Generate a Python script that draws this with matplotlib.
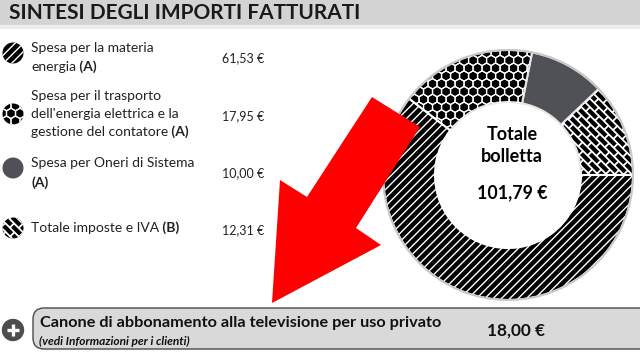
"""Sintesi degli importi fatturati: bolletta donut with textured wedges and side legend."""
import matplotlib
matplotlib.use("Agg")
import matplotlib.pyplot as plt
import numpy as np
from matplotlib.collections import LineCollection, PolyCollection
from matplotlib.patches import Circle, FancyBboxPatch, Polygon, Rectangle

# ---- data ----
ITEMS = ["materia", "trasporto", "oneri", "imposte"]
LABEL_LINES = [
    ["Spesa per la materia", "energia"],
    ["Spesa per il trasporto", "dell'energia elettrica e la", "gestione del contatore"],
    ["Spesa per Oneri di Sistema", ""],
    ["Totale imposte e IVA"],
]
TAGS = ["(A)", "(A)", "(A)", "(B)"]
VALUES = [61.53, 17.95, 10.00, 12.31]
TOTAL = 101.79
CANONE = 18.00
TITLE = "SINTESI DEGLI IMPORTI FATTURATI"

# ---- styles ----
FACE = {"materia": "black", "trasporto": "black", "oneri": "#505057", "imposte": "black"}
TEXTURE = {"materia": "stripes", "trasporto": "honeycomb", "oneri": None, "imposte": "bricks"}
FONT = "Lato"


def euro(v):
    return f"{v:,.2f} €".replace(",", "X").replace(".", ",").replace("X", ".")


def honeycomb(x0, x1, y0, y1, r=5.2):
    """Hexagon outlines covering a box (pixel units)."""
    ang = np.deg2rad(np.arange(6) * 60 + 30)
    hexv = np.c_[np.cos(ang), np.sin(ang)] * r
    dx, dy = np.sqrt(3) * r, 1.5 * r
    polys = []
    for row, cy in enumerate(np.arange(y0 - r, y1 + 2 * r, dy)):
        off = dx / 2 if row % 2 else 0
        for cx in np.arange(x0 - dx + off, x1 + dx, dx):
            polys.append(hexv + (cx, cy))
    return PolyCollection(polys, facecolors="none", edgecolors="white", linewidths=0.9, zorder=3)


def bricks(cx, cy, half, h=6.0, L=13.0):
    """Diagonal brick wall lines centred on (cx, cy)."""
    u = np.array([1, 1]) / np.sqrt(2)
    v = np.array([-1, 1]) / np.sqrt(2)
    segs = []
    rows = np.arange(-half, half + h, h)
    for k, vv in enumerate(rows):
        segs.append([(cx, cy) + u * -half + v * vv, (cx, cy) + u * half + v * vv])
        off = L / 2 if k % 2 else 0
        for uu in np.arange(-half + off, half, L):
            segs.append([(cx, cy) + u * uu + v * vv, (cx, cy) + u * uu + v * (vv + h)])
    return LineCollection(segs, colors="white", linewidths=1.3, zorder=3)


def texture(ax, patch, kind, box):
    x0, x1, y0, y1 = box
    if kind == "stripes":
        patch.set_hatch("////")
        patch.set_edgecolor("white")
        return
    if kind == "honeycomb":
        coll = honeycomb(x0, x1, y0, y1)
    elif kind == "bricks":
        coll = bricks((x0 + x1) / 2, (y0 + y1) / 2, max(x1 - x0, y1 - y0))
    else:
        return
    ax.add_collection(coll)
    coll.set_clip_path(patch)


plt.rcParams["hatch.linewidth"] = 1.0
fig = plt.figure(figsize=(6.4, 3.52), dpi=100)
ax = fig.add_axes([0, 0, 1, 1])

# header band
ax.add_patch(Rectangle((0, 0), 640, 25, color="#d3d3d3", zorder=1))
ax.add_patch(Rectangle((0, 25), 640, 3, color="#eeeeee", zorder=1))
ax.text(9, 13, TITLE, fontsize=15, fontweight="bold", family=FONT,
        va="center", ha="left", color="#1a1a1a")

# donut: plotting order imposte, oneri, trasporto, materia starting at 3 o'clock
CX, CY, R = 508, 175, 125
order = [3, 2, 1, 0]
wedges, _ = ax.pie([VALUES[i] for i in order], center=(CX, CY), radius=R,
                   startangle=0, counterclock=False,
                   wedgeprops=dict(width=52, edgecolor="#e6e6e6", linewidth=1.5))
for w, i in zip(wedges, order):
    w.set_facecolor(FACE[ITEMS[i]])
    texture(ax, w, TEXTURE[ITEMS[i]], (CX - R, CX + R, CY - R, CY + R))
ax.add_patch(Circle((CX, CY), R, fill=False, ec="#c8c8c8", lw=1.5, zorder=4))
ax.text(512, 135, "Totale", fontsize=13, fontweight="bold", family=FONT, ha="center", va="center")
ax.text(512, 157, "bolletta", fontsize=13, fontweight="bold", family=FONT, ha="center", va="center")
ax.text(512, 193, euro(TOTAL), fontsize=12.8, fontweight="bold", family=FONT, ha="center", va="center")

# legend rows
icon_y = [53, 114, 168, 228]
line_y = [[48, 67], [96, 114, 132], [163, 183], [228]]
value_y = [58, 116, 173, 230]
for k, item in enumerate(ITEMS):
    ic = Circle((13, icon_y[k]), 10.5, facecolor=FACE[item], edgecolor="none", lw=0, zorder=3)
    ax.add_patch(ic)
    texture(ax, ic, TEXTURE[item], (2, 24, icon_y[k] - 11, icon_y[k] + 11))
    for j, (line, y) in enumerate(zip(LABEL_LINES[k], line_y[k])):
        last = j == len(LABEL_LINES[k]) - 1
        if line:
            t = ax.text(31, y, line, fontsize=10, family=FONT, va="center", ha="left", color="#222")
            if last:
                ax.annotate(" " + TAGS[k], xy=(1, 0), xycoords=t, va="bottom", ha="left",
                            fontsize=10, family=FONT, fontweight="bold", color="#222")
        elif last:
            ax.text(31, y, TAGS[k], fontsize=10, family=FONT, fontweight="bold",
                    va="center", ha="left", color="#222")
    ax.text(264, value_y[k], euro(VALUES[k]), fontsize=9, family=FONT, va="center", ha="right",
            color="#222")

# red arrow
arrow = [(372, 97), (420, 127), (356, 228), (381, 245), (272, 303), (280, 180), (307, 197)]
ax.add_patch(Polygon(arrow, closed=True, color="#ff0000", lw=0, zorder=5))

# bottom canone box
ax.add_patch(FancyBboxPatch((33, 308), 625, 41, boxstyle="round,pad=0,rounding_size=11",
                            facecolor="#d9d9d9", edgecolor="#4a4a4a", lw=1, zorder=4))
ax.add_patch(Circle((13, 330), 10.5, color="#4d4d4d", zorder=4))
ax.plot([7, 19], [330, 330], color="white", lw=2.4, zorder=5, solid_capstyle="butt")
ax.plot([13, 13], [324, 336], color="white", lw=2.4, zorder=5, solid_capstyle="butt")
ax.text(40, 323, "Canone di abbonamento alla televisione per uso privato", fontsize=11.7,
        fontweight="bold", family=FONT, va="center", ha="left", color="#111", zorder=6)
ax.text(39, 341, "(vedi Informazioni per i clienti)", fontsize=8.6, fontweight="bold",
        fontstyle="italic", family=FONT, va="center", ha="left", color="#111", zorder=6)
ax.text(487, 331, euro(CANONE), fontsize=12.4, fontweight="bold", family=FONT,
        va="center", ha="left", color="#111", zorder=6)

ax.set_xlim(0, 640)
ax.set_ylim(352, 0)
ax.set_aspect("equal")
ax.axis("off")
fig.savefig("out.png", dpi=100)
